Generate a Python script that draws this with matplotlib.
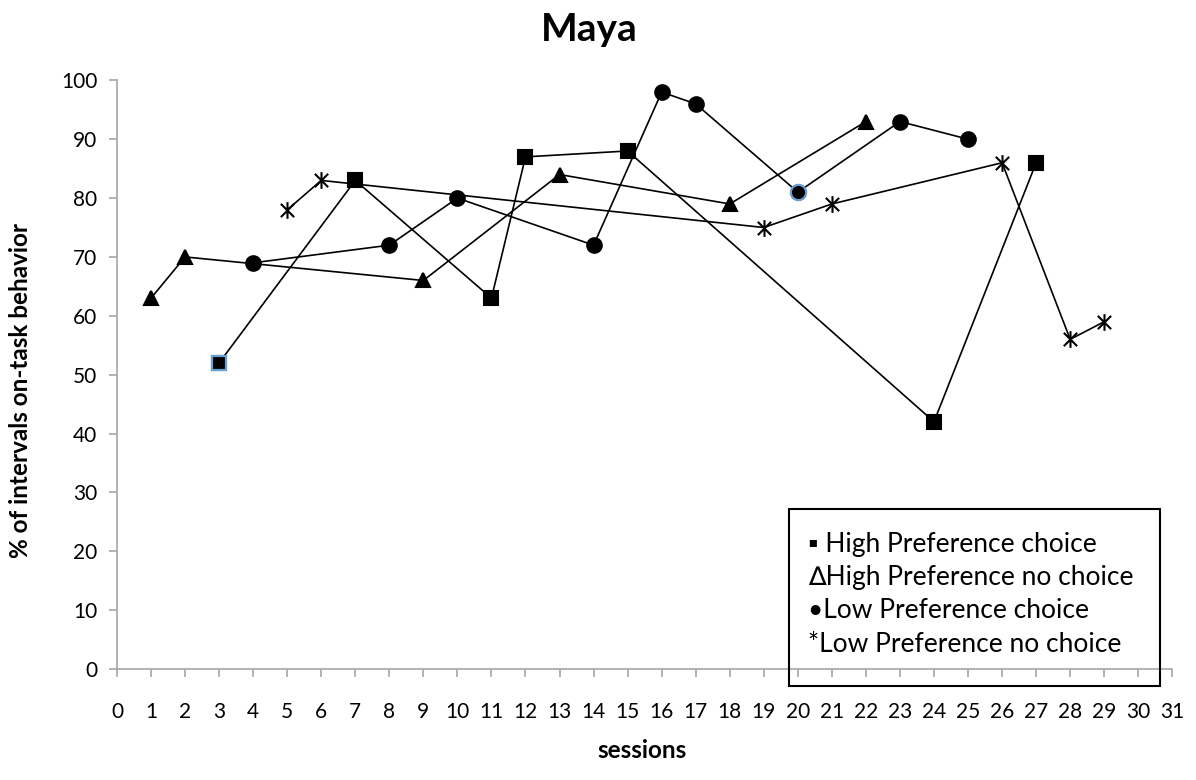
#!/usr/bin/env python3

import matplotlib
matplotlib.use('Agg')
import matplotlib.pyplot as plt
from matplotlib.path import Path
from matplotlib.patches import Rectangle

plt.rcParams['font.family'] = ['Lato', 'DejaVu Sans']

# 세션별 데이터
hp_choice_x = [3, 7, 11, 12, 15, 24, 27]
hp_choice_y = [52, 83, 63, 87, 88, 42, 86]

hp_nochoice_x = [1, 2, 9, 13, 18, 22]
hp_nochoice_y = [63, 70, 66, 84, 79, 93]

lp_choice_x = [4, 8, 10, 14, 16, 17, 20, 23, 25]
lp_choice_y = [69, 72, 80, 72, 98, 96, 81, 93, 90]

lp_nochoice_x = [5, 6, 19, 21, 26, 28, 29]
lp_nochoice_y = [78, 83, 75, 79, 86, 56, 59]

legend_lines = [
    '\u25aa High Preference choice',
    '\u2206High Preference no choice',
    '\u2022Low Preference choice',
    '*Low Preference no choice',
]

# 엑셀 스타일 별표 마커 (X + 세로선)
star = Path(
    [(-1, -1), (1, 1), (-1, 1), (1, -1), (0, -1.25), (0, 1.25)],
    [Path.MOVETO, Path.LINETO, Path.MOVETO, Path.LINETO, Path.MOVETO, Path.LINETO],
)

fig = plt.figure(figsize=(11.96, 7.80), dpi=100)
ax = fig.add_axes([0.0978, 0.1423, 0.8824, 0.7547])

series = [
    (hp_choice_x, hp_choice_y, 's', 9.5),
    (hp_nochoice_x, hp_nochoice_y, '^', 10),
    (lp_choice_x, lp_choice_y, 'o', 10.5),
    (lp_nochoice_x, lp_nochoice_y, star, 12),
]
for xs, ys, mk, ms in series:
    ax.plot(xs, ys, color='black', linewidth=1.2, marker=mk, markersize=ms,
            markerfacecolor='black', markeredgecolor='black', markeredgewidth=1.5,
            clip_on=False, zorder=3)

# 파란 테두리 마커
ax.plot(hp_choice_x[0], hp_choice_y[0], 's', markersize=10, markerfacecolor='black',
        markeredgecolor='#6a9fd6', markeredgewidth=1.6, zorder=4)
ax.plot(lp_choice_x[6], lp_choice_y[6], 'o', markersize=11, markerfacecolor='black',
        markeredgecolor='#6a9fd6', markeredgewidth=1.6, zorder=4)

# 축 설정
ax.set_xlim(0, 31)
ax.set_ylim(0, 100)
ax.set_xticks(range(0, 32))
ax.set_yticks(range(0, 101, 10))
for side in ['top', 'right']:
    ax.spines[side].set_visible(False)
for side in ['left', 'bottom']:
    ax.spines[side].set_color('#a6a6a6')
    ax.spines[side].set_linewidth(1.2)
ax.tick_params(axis='both', colors='#a6a6a6', length=6, width=1.2, labelcolor='black',
               labelsize=15)
ax.tick_params(axis='x', pad=18)
ax.tick_params(axis='y', pad=8)

fig.text(0.493, 0.962, 'Maya', ha='center', va='center', fontsize=28, fontweight='bold')
fig.text(0.017, 0.5, '% of intervals on-task behavior', ha='center', va='center',
         rotation=90, fontsize=17.5, fontweight='bold')
fig.text(0.537, 0.038, 'sessions', ha='center', va='center', fontsize=17.5, fontweight='bold')

# 범례 상자
fig.patches.append(Rectangle((0.6597, 0.1205), 0.3102, 0.2269, transform=fig.transFigure,
                             fill=False, edgecolor='black', linewidth=1.5, zorder=5))
baselines = [552, 585, 618, 652]
for txt, b in zip(legend_lines, baselines):
    fig.text(0.676, 1 - b / 780, txt, ha='left', va='baseline', fontsize=19)

plt.savefig('out.png', dpi=100)
plt.close()
